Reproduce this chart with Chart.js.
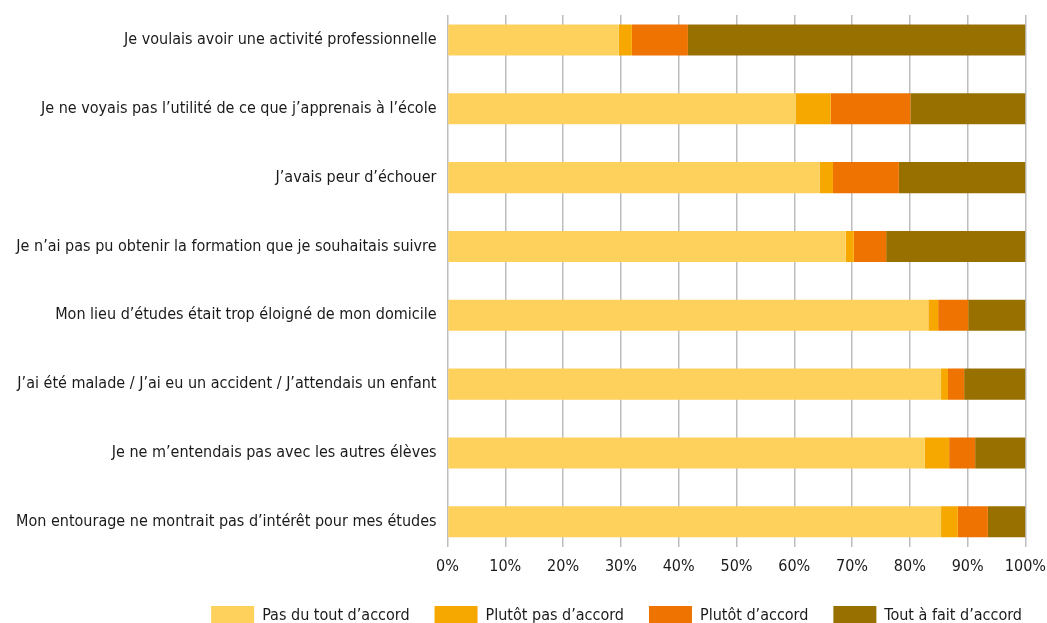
<!DOCTYPE html>
<html>
<head>
<meta charset="utf-8">
<script src="https://cdn.jsdelivr.net/npm/chart.js@4.4.1/dist/chart.umd.min.js"></script>
<style>
  html, body { margin: 0; padding: 0; background: #fff; }
  #wrap { width: 1047px; height: 623px; }
</style>
</head>
<body>
<div id="wrap"><canvas id="chart" width="1047" height="623"></canvas></div>
<script>
// Categories (top to bottom)
const categories = [
    'Je voulais avoir une activité professionnelle',
    'Je ne voyais pas l’utilité de ce que j’apprenais à l’école',
    'J’avais peur d’échouer',
    'Je n’ai pas pu obtenir la formation que je souhaitais suivre',
    'Mon lieu d’études était trop éloigné de mon domicile',
    'J’ai été malade / J’ai eu un accident / J’attendais un enfant',
    'Je ne m’entendais pas avec les autres élèves',
    'Mon entourage ne montrait pas d’intérêt pour mes études'
];

// Shares in %
const pasDuTout = [29.6, 60.3, 64.4, 68.9, 83.2, 85.4, 82.6, 85.4];
const plutotPas = [2.3, 6.0, 2.3, 1.4, 1.7, 1.2, 4.2, 2.9];
const plutot    = [9.7, 13.8, 11.4, 5.6, 5.2, 2.8, 4.5, 5.2];
const toutAFait = [58.4, 19.9, 21.9, 24.1, 9.9, 10.6, 8.7, 6.5];

const seriesNames = ['Pas du tout d’accord', 'Plutôt pas d’accord', 'Plutôt d’accord', 'Tout à fait d’accord'];
const colors = ['#FDD15C', '#F6A800', '#EE7300', '#977000'];
const xTicks = [0, 10, 20, 30, 40, 50, 60, 70, 80, 90, 100];

const FONT = "'DejaVu Sans Condensed', 'Liberation Sans Narrow', sans-serif";

const values = [pasDuTout, plutotPas, plutot, toutAFait];
// rows sit on a numeric y scale (0..7) so the outer margin can be tuned
const datasets = values.map((v, i) => ({
    label: seriesNames[i],
    data: v.map((x, row) => ({ x: x, y: row })),
    backgroundColor: colors[i],
    borderWidth: 0,
    barPercentage: 0.452,
    categoryPercentage: 1
}));

new Chart(document.getElementById('chart').getContext('2d'), {
    type: 'bar',
    data: { datasets: datasets },
    options: {
        indexAxis: 'y',
        responsive: false,
        animation: false,
        layout: { padding: { top: 15, right: 0, left: 5, bottom: -13 } },
        plugins: {
            tooltip: { enabled: false },
            legend: {
                position: 'bottom',
                align: 'end',
                labels: {
                    boxWidth: 43,
                    boxHeight: 20,
                    padding: 25,
                    color: '#1a1a1a',
                    font: { family: FONT, size: 16 }
                }
            }
        },
        scales: {
            x: {
                stacked: true,
                min: 0,
                max: 100,
                afterBuildTicks: axis => { axis.ticks = xTicks.map(v => ({ value: v })); },
                // a little empty room under the tick labels
                afterFit: axis => { axis.height += 4; },
                ticks: {
                    callback: v => v + '%',
                    color: '#1a1a1a',
                    font: { family: FONT, size: 16 },
                    maxRotation: 0,
                    autoSkip: false,
                    padding: 1
                },
                grid: { color: '#bdbdbd', lineWidth: 1.5, tickLength: 9, tickColor: 'rgba(0,0,0,0)' },
                border: { display: false }
            },
            y: {
                type: 'linear',
                stacked: true,
                reverse: true,
                offset: false,
                min: -0.363,
                max: categories.length - 1 + 0.363,
                afterBuildTicks: axis => { axis.ticks = categories.map((c, i) => ({ value: i })); },
                // labels sit well inside the area, no extra room needed above/below
                afterFit: axis => { axis.paddingTop = 0; axis.paddingBottom = 0; },
                ticks: {
                    callback: v => categories[v],
                    color: '#1a1a1a',
                    font: { family: FONT, size: 16 },
                    padding: 11
                },
                grid: { display: false, offset: false, tickLength: 0 },
                border: { display: false }
            }
        }
    }
});
</script>
</body>
</html>
